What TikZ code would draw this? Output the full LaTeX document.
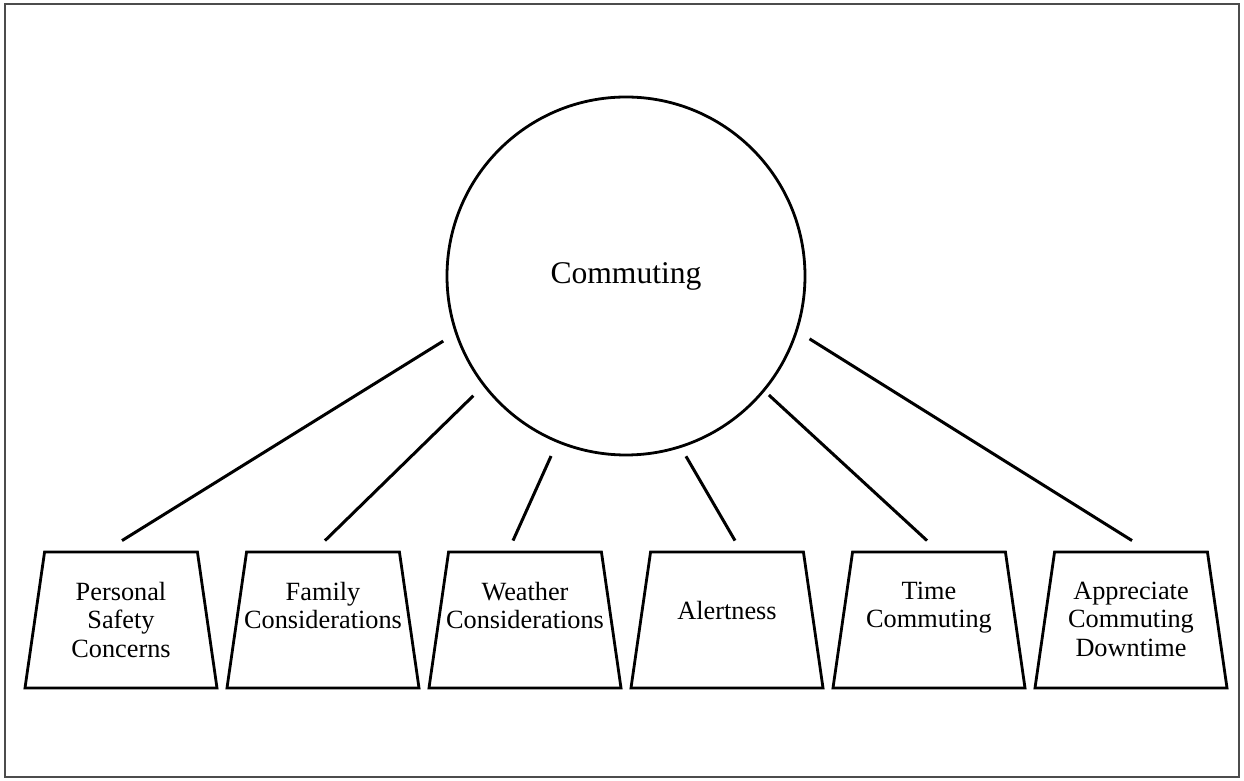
\documentclass[tikz,border=0pt]{standalone}
\usepackage{fontspec}
\setmainfont{Liberation Serif}
\usetikzlibrary{calc}
\usetikzlibrary{shapes.geometric}

\begin{document}
\begin{tikzpicture}[x=1pt, y=1pt]
\pgfmathsetmacro{\hubradius}{179}
\pgfmathsetmacro{\boxwidth}{192}
\pgfmathsetmacro{\boxheight}{136}
\pgfmathsetmacro{\boxslant}{82.7}
\pgfmathsetmacro{\linkwidth}{3pt}
\pgfmathsetmacro{\shapewidth}{2.8pt}
\pgfmathsetmacro{\framewidth}{1.8pt}
\pgfmathsetmacro{\boxy}{161}

\useasboundingbox (0, 0) rectangle (1244, 781);
\draw [line width=\framewidth, black!70] (5, 4) rectangle (1239, 777);

\node [circle, draw, line width=\shapewidth, minimum size=2*\hubradius, inner sep=0pt, font=\fontsize{31.6}{34}\selectfont] (hub) at (626, 505) {Commuting};

\tikzset{trap/.style={trapezium, draw, line width=\shapewidth, trapezium angle=\boxslant, trapezium stretches=true, minimum width=\boxwidth, minimum height=\boxheight, inner sep=4pt}}
\tikzset{trap_text/.style={align=center, anchor=north, inner sep=0pt, font=\fontsize{26.3}{28.5}\selectfont}}

\node [trap] (box_safety) at (121, \boxy) {};
\node [trap] (box_family) at (323, \boxy) {};
\node [trap] (box_weather) at (525, \boxy) {};
\node [trap] (box_alert) at (727, \boxy) {};
\node [trap] (box_time) at (929, \boxy) {};
\node [trap] (box_downtime) at (1131, \boxy) {};

\node [trap_text] (safety_text) at ($(box_safety.north) + (0, -31)$) {Personal\\Safety\\Concerns};
\node [trap_text] (family_text) at ($(box_family.north) + (0, -31)$) {Family\\Considerations};
\node [trap_text] (weather_text) at ($(box_weather.north) + (0, -31)$) {Weather\\Considerations};
\node [trap_text] (alert_text) at ($(box_alert.north) + (0, -50)$) {Alertness};
\node [trap_text] (time_text) at ($(box_time.north) + (0, -31)$) {Time\\Commuting};
\node [trap_text] (downtime_text) at ($(box_downtime.north) + (0, -31)$) {Appreciate\\Commuting\\Downtime};

\coordinate (safety_hub) at ($(hub.center) + (199.6:194)$);
\coordinate (family_hub) at ($(hub.center) + (218.1:194)$);
\coordinate (weather_hub) at ($(hub.center) + (247.4:195)$);
\coordinate (alert_hub) at ($(hub.center) + (288.4:190)$);
\coordinate (time_hub) at ($(hub.center) + (320.2:186)$);
\coordinate (downtime_hub) at ($(hub.center) + (341.1:194)$);
\coordinate (safety_top) at ($(box_safety.north) + (1, 10)$);
\coordinate (family_top) at ($(box_family.north) + (2, 10)$);
\coordinate (weather_top) at ($(box_weather.north) + (-12, 10)$);
\coordinate (alert_top) at ($(box_alert.north) + (8, 10)$);
\coordinate (time_top) at ($(box_time.north) + (-2, 10)$);
\coordinate (downtime_top) at ($(box_downtime.north) + (1, 10)$);

\draw [line width=\linkwidth] (safety_hub) -- (safety_top);
\draw [line width=\linkwidth] (family_hub) -- (family_top);
\draw [line width=\linkwidth] (weather_hub) -- (weather_top);
\draw [line width=\linkwidth] (alert_hub) -- (alert_top);
\draw [line width=\linkwidth] (time_hub) -- (time_top);
\draw [line width=\linkwidth] (downtime_hub) -- (downtime_top);
\end{tikzpicture}
\end{document}
